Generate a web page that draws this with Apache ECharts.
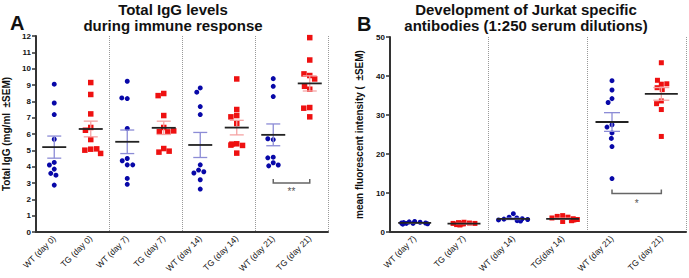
<!DOCTYPE html>
<html><head><meta charset="utf-8">
<script src="https://cdn.jsdelivr.net/npm/echarts@6/dist/echarts.min.js"></script>
<style>html,body{margin:0;padding:0;background:#fff}#c{width:689px;height:278px}</style>
</head><body><div id="c"></div>
<script>
// ---------- Panel A: Total IgG (mg/ml) ----------
const categoriesA = ['WT (day 0)','TG (day 0)','WT (day 7)','TG (day 7)','WT (day 14)','TG (day 14)','WT (day 21)','TG (day 21)'];
const wtDay0A  = [9.05,7.90,7.19,5.68,4.26,4.10,3.85,3.59,3.48,2.87];
const tgDay0A  = [9.15,8.42,7.23,6.40,6.23,5.66,5.07,5.01,5.09,4.81];
const wtDay7A  = [9.23,8.17,8.21,6.34,4.50,4.36,4.11,4.11,3.28,2.92];
const tgDay7A  = [8.48,8.35,7.13,6.40,6.15,6.13,6.19,5.11,4.89,4.95];
const wtDay14A = [8.82,8.56,7.68,7.19,4.11,3.79,3.69,3.61,3.20,2.63];
const tgDay14A = [9.37,7.50,7.13,7.05,6.64,5.40,5.32,5.30,5.38,4.83];
const wtDay21A = [9.39,8.92,8.29,5.66,5.71,4.58,4.54,4.24,4.05,4.10];
const tgDay21A = [11.90,10.53,9.58,9.68,9.37,8.74,8.92,7.62,7.58,7.05];
const sigPairA = [6,7]; const sigLevelA = 3.0; const sigTextA = '**';

// ---------- Panel B: mean fluorescent intensity ----------
const categoriesB = ['WT (day 7)','TG (day 7)','WT (day 14)','TG(day 14)','WT (day 21)','TG (day 21)'];
const wtDay7B  = [2.7,2.6,2.5,2.4,2.3,2.3,2.2,2.2,2.1,2.0];
const tgDay7B  = [2.5,2.4,2.3,2.2,2.2,2.1,2.1,2.0,1.9,1.8];
const wtDay14B = [4.7,3.8,3.6,3.4,3.3,3.2,3.1,3.0,2.9,2.8];
const tgDay14B = [4.2,4.0,3.8,3.6,3.4,3.2,3.1,3.0,2.9,2.7];
const wtDay21B = [38.8,36.4,34.2,33.2,27.5,26.9,25.4,24.0,21.9,13.7];
const tgDay21B = [43.4,37.9,38.9,38.0,37.0,36.5,33.6,32.9,31.4,24.5];
const sigPairB = [4,5]; const sigLevelB = 9.9; const sigTextB = '*';

const FONT = 'Liberation Sans, Arial, sans-serif';
const groupsA = [wtDay0A,tgDay0A,wtDay7A,tgDay7A,wtDay14A,tgDay14A,wtDay21A,tgDay21A];
const groupsB = [wtDay7B,tgDay7B,wtDay14B,tgDay14B,wtDay21B,tgDay21B];

function pts(groups, parity){
  const out=[];
  groups.forEach((g,i)=>{ if(i%2===parity) g.forEach(v=>out.push([i,v])); });
  return out;
}
function stats(groups){
  return groups.map((g,i)=>{
    const n=g.length, m=g.reduce((a,b)=>a+b,0)/n;
    const sd=Math.sqrt(g.reduce((a,b)=>a+(b-m)*(b-m),0)/(n-1));
    const se=sd/Math.sqrt(n);
    return [i,m,m-se,m+se,i%2];
  });
}
function statsRender(meanHalf, capHalf){
  return function(params, api){
    const c=api.value(0);
    const pm=api.coord([c,api.value(1)]);
    const pl=api.coord([c,api.value(2)]);
    const ph=api.coord([c,api.value(3)]);
    const col = api.value(4)===0 ? '#8c8cd6' : '#f5a3a3';
    const x=pm[0];
    const st={stroke:col,lineWidth:1.3};
    return {type:'group',children:[
      {type:'line',shape:{x1:x,y1:pl[1],x2:x,y2:ph[1]},style:st},
      {type:'line',shape:{x1:x-capHalf,y1:pl[1],x2:x+capHalf,y2:pl[1]},style:st},
      {type:'line',shape:{x1:x-capHalf,y1:ph[1],x2:x+capHalf,y2:ph[1]},style:st},
      {type:'line',shape:{x1:x-meanHalf,y1:pm[1],x2:x+meanHalf,y2:pm[1]},style:{stroke:'#222',lineWidth:1.8}}
    ]};
  };
}
function bracketRender(text, tickPx, gap){
  return function(params, api){
    const p0=api.coord([api.value(0),api.value(2)]);
    const p1=api.coord([api.value(1),api.value(2)]);
    const y=p0[1];
    return {type:'group',children:[
      {type:'polyline',shape:{points:[[p0[0],y-tickPx],[p0[0],y],[p1[0],y],[p1[0],y-tickPx]]},style:{stroke:'#666',lineWidth:1.5,fill:null}},
      {type:'text',x:(p0[0]+p1[0])/2,y:y+gap,style:{text:text,align:'center',verticalAlign:'middle',fill:'#555',font:'10px '+FONT}}
    ]};
  };
}
function xAxisCfg(cats, gi, sepIdx, jit){
  return {type:'category', gridIndex:gi, data:cats, boundaryGap:true,
    jitter: jit, jitterOverlap:false, jitterMargin:0.5,
    axisLine:{lineStyle:{color:'#333',width:2}},
    axisTick:{alignWithLabel:true,length:4,lineStyle:{color:'#333',width:1.5}},
    axisLabel:{interval:0,rotate:45,fontSize:8.5,margin:5,color:'#111',fontFamily:FONT},
    splitLine:{show:true,interval:(i)=>sepIdx.indexOf(i)>=0,lineStyle:{type:'dotted',color:'#999',width:1}}};
}
function yAxisCfg(gi, max, interval, name, gap){
  return {type:'value', gridIndex:gi, min:0, max:max, interval:interval,
    name:name, nameLocation:'middle', nameGap:gap,
    nameTextStyle:{fontSize:10,fontWeight:'bold',color:'#111',fontFamily:FONT},
    axisLine:{show:true,lineStyle:{color:'#333',width:2}},
    axisTick:{show:true,length:4,lineStyle:{color:'#333',width:1.5}},
    axisLabel:{fontSize:8,fontWeight:'bold',margin:5,color:'#111',fontFamily:FONT},
    splitLine:{show:false}};
}

const chart = echarts.init(document.getElementById('c'), null, {renderer:'svg'});
chart.setOption({
  animation:false,
  textStyle:{fontFamily:FONT},
  grid:[{left:33,top:36,width:295,height:196},{left:390,top:37,width:296,height:195}],
  xAxis:[xAxisCfg(categoriesA,0,[2,4,6],22), xAxisCfg(categoriesB,1,[2,4],30)],
  yAxis:[yAxisCfg(0,12,1,'Total IgG (mg/ml  \u00b1SEM)',25), yAxisCfg(1,50,10,'mean fluorescent intensity (  \u00b1SEM)',26)],
  graphic:[
    {type:'text',x:173,y:1,style:{text:'Total IgG levels\nduring immune response',align:'center',verticalAlign:'top',font:'bold 15px '+FONT,lineHeight:16.5,fill:'#111'}},
    {type:'text',x:526,y:1,style:{text:'Development of Jurkat specific\nantibodies (1:250 serum dilutions)',align:'center',verticalAlign:'top',font:'bold 15px '+FONT,lineHeight:16.5,fill:'#111'}},
    {type:'text',x:10,y:13,style:{text:'A',font:'bold 20px '+FONT,fill:'#111'}},
    {type:'text',x:357,y:14,style:{text:'B',font:'bold 20px '+FONT,fill:'#111'}}
  ],
  series:[
    {type:'scatter',xAxisIndex:0,yAxisIndex:0,data:pts(groupsA,0),symbol:'circle',symbolSize:5,itemStyle:{color:'#0808a8',opacity:1}},
    {type:'scatter',xAxisIndex:0,yAxisIndex:0,data:pts(groupsA,1),symbol:'rect',symbolSize:5.5,itemStyle:{color:'#ee1111',opacity:1}},
    {type:'custom',xAxisIndex:0,yAxisIndex:0,data:stats(groupsA),renderItem:statsRender(12,7),z:5,clip:false},
    {type:'custom',xAxisIndex:0,yAxisIndex:0,data:[[sigPairA[0],sigPairA[1],sigLevelA]],encode:{x:0,y:2},renderItem:bracketRender(sigTextA,4,8),z:5},
    {type:'scatter',xAxisIndex:1,yAxisIndex:1,data:pts(groupsB,0),symbol:'circle',symbolSize:5,itemStyle:{color:'#0808a8',opacity:1}},
    {type:'scatter',xAxisIndex:1,yAxisIndex:1,data:pts(groupsB,1),symbol:'rect',symbolSize:5,itemStyle:{color:'#ee1111',opacity:1}},
    {type:'custom',xAxisIndex:1,yAxisIndex:1,data:stats(groupsB),renderItem:statsRender(16.5,8),z:5,clip:false},
    {type:'custom',xAxisIndex:1,yAxisIndex:1,data:[[sigPairB[0],sigPairB[1],sigLevelB]],encode:{x:0,y:2},renderItem:bracketRender(sigTextB,4,10),z:5}
  ]
});
</script></body></html>
